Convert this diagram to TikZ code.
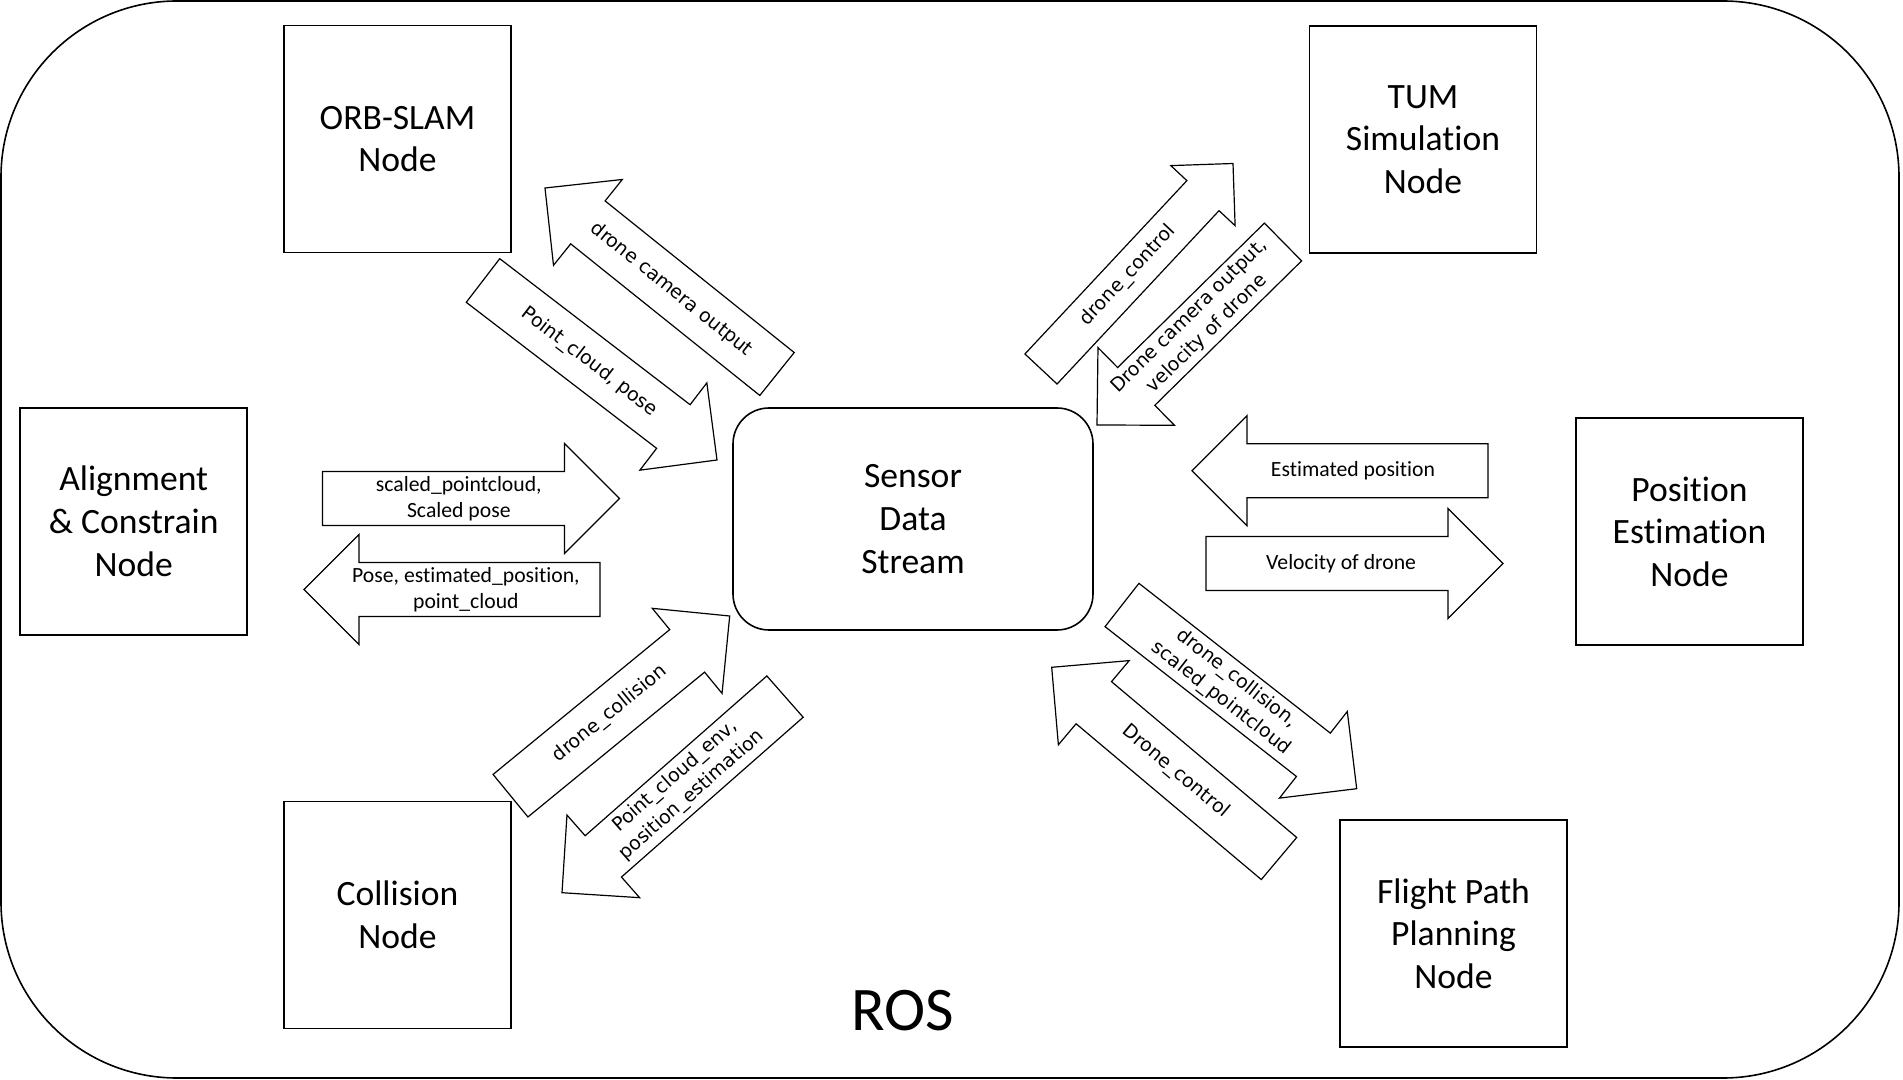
\documentclass[tikz,border=0pt]{standalone}
\usepackage{fontspec}
\setmainfont{Carlito}[Ligatures=NoCommon]
\newfontfamily\dvsans{DejaVu Sans}
\usetikzlibrary{calc}

% block arrow: #1 tail, #2 tip, #3 shaft half width, #4 head half width, #5 head length
\newcommand{\blockarr}[5]{%
  \coordinate (bb) at ($(#2)!#5!(#1)$);
  \draw[arrowshape] ($(#1)!#3!90:(#2)$) -- ($(bb)!#3!90:(#2)$) -- ($(bb)!#4!90:(#2)$)
    -- (#2) -- ($(bb)!#4!-90:(#2)$) -- ($(bb)!#3!-90:(#2)$) -- ($(#1)!#3!-90:(#2)$) -- cycle;
}

\begin{document}
\begin{tikzpicture}[x=0.5pt,y=-0.5pt,
  nodebox/.style={draw, line width=0.8pt, minimum width=113.5pt, minimum height=113.5pt,
    inner sep=0pt, align=center, font={\fontsize{17.8}{21.3}\selectfont}},
  streambox/.style={draw, line width=0.8pt, rounded corners=18pt, minimum width=180pt,
    minimum height=111pt, inner sep=0pt, align=center, font={\fontsize{17.8}{21.3}\selectfont}},
  arrowshape/.style={draw, line width=0.6pt, fill=white, line join=miter},
  hlab/.style={align=center, inner sep=0pt, font={\fontsize{10.85}{12.75}\selectfont}},
  dlab/.style={align=center, inner sep=0pt, sloped, font={\dvsans\fontsize{9.5}{12.5}\selectfont}},
  roslab/.style={inner sep=0pt, font={\fontsize{31}{36}\selectfont}}
]
\useasboundingbox (0,0) rectangle (1903,1080);
\draw[line width=0.8pt, rounded corners=88pt] (1,1) rectangle (1899,1078);

% nodes
\node[nodebox] (orb) at (397.5,139) {ORB-SLAM\\Node};
\node[nodebox] (tum) at (1423,139.5) {TUM\\Simulation\\Node};
\node[nodebox] (align) at (133.7,521.3) {Alignment\\\& Constrain\\Node};
\node[nodebox] (pos) at (1689.5,531.5) {Position\\Estimation\\Node};
\node[nodebox] (coll) at (397.5,915) {Collision\\Node};
\node[nodebox] (flight) at (1453.5,933.5) {Flight Path\\Planning\\Node};
\node[streambox] (sds) at (913,519) {Sensor\\Data\\Stream};
\node[roslab] (ros) at (903,1011) {ROS};

% arrow end points
\coordinate (a1t) at (322.5,498.5);  \coordinate (a1p) at (619.5,498.5);
\coordinate (a2t) at (600,589.5);    \coordinate (a2p) at (304,589.5);
\coordinate (a3t) at (1488,470.7);   \coordinate (a3p) at (1192,470.7);
\coordinate (a4t) at (1206,563.5);   \coordinate (a4p) at (1503,563.5);
\coordinate (a5t) at (777,374);      \coordinate (a5p) at (545,188);
\coordinate (a6t) at (483,280.5);    \coordinate (a6p) at (717,460);
\coordinate (a7t) at (1041,369);     \coordinate (a7p) at (1233,163.5);
\coordinate (a8t) at (1283,242);     \coordinate (a8p) at (1097,425);
\coordinate (a9t) at (510.5,795.7);  \coordinate (a9p) at (729.7,616);
\coordinate (a10t) at (785,696.6);   \coordinate (a10p) at (562,892.7);
\coordinate (a11t) at (1122,605);    \coordinate (a11p) at (1356.7,788.7);
\coordinate (a12t) at (1279,858.5);  \coordinate (a12p) at (1051.7,667.3);

\blockarr{a1t}{a1p}{13.5pt}{27.5pt}{27.5pt}
\blockarr{a2t}{a2p}{13.5pt}{27.5pt}{27.5pt}
\blockarr{a3t}{a3p}{13.5pt}{27.5pt}{27.5pt}
\blockarr{a4t}{a4p}{13.5pt}{27.5pt}{27.5pt}
\blockarr{a5t}{a5p}{13.75pt}{27.5pt}{27.5pt}
\blockarr{a6t}{a6p}{13.75pt}{27.5pt}{27.5pt}
\blockarr{a7t}{a7p}{11pt}{22pt}{22pt}
\blockarr{a8t}{a8p}{13.25pt}{27.25pt}{27.5pt}
\blockarr{a9t}{a9p}{13.75pt}{27.5pt}{27.5pt}
\blockarr{a10t}{a10p}{13.75pt}{27.5pt}{27.5pt}
\blockarr{a11t}{a11p}{13.75pt}{27.5pt}{27.5pt}
\blockarr{a12t}{a12p}{13.75pt}{27.5pt}{27.5pt}

% labels
\path (a1t) -- (a1p) node[hlab, pos=0.459] (l1) {scaled\_pointcloud,\\Scaled pose};
\path (a2t) -- (a2p) node[hlab, pos=0.453] (l2) {Pose, estimated\_position,\\point\_cloud};
\path (a3t) -- (a3p) node[hlab, pos=0.456] (l3) {Estimated position};
\path (a4t) -- (a4p) node[hlab, pos=0.455] (l4) {Velocity of drone};
\path (a5t) -- (a5p) node[dlab, pos=0.455] (l5) {drone camera output};
\path (a6t) -- (a6p) node[dlab, pos=0.455] (l6) {Point\_cloud, pose};
\path (a7t) -- (a7p) node[dlab, pos=0.455] (l7) {drone\_control};
\path (a8t) -- (a8p) node[dlab, pos=0.455] (l8) {Drone camera output,\\velocity of drone};
\path (a9t) -- (a9p) node[dlab, pos=0.455] (l9) {drone\_collision};
\path (a10t) -- (a10p) node[dlab, pos=0.455] (l10) {Point\_cloud\_env,\\position\_estimation};
\path (a11t) -- (a11p) node[dlab, pos=0.455] (l11) {drone\_collision,\\scaled\_pointcloud};
\path (a12t) -- (a12p) node[dlab, pos=0.455] (l12) {Drone\_control};
\end{tikzpicture}
\end{document}
